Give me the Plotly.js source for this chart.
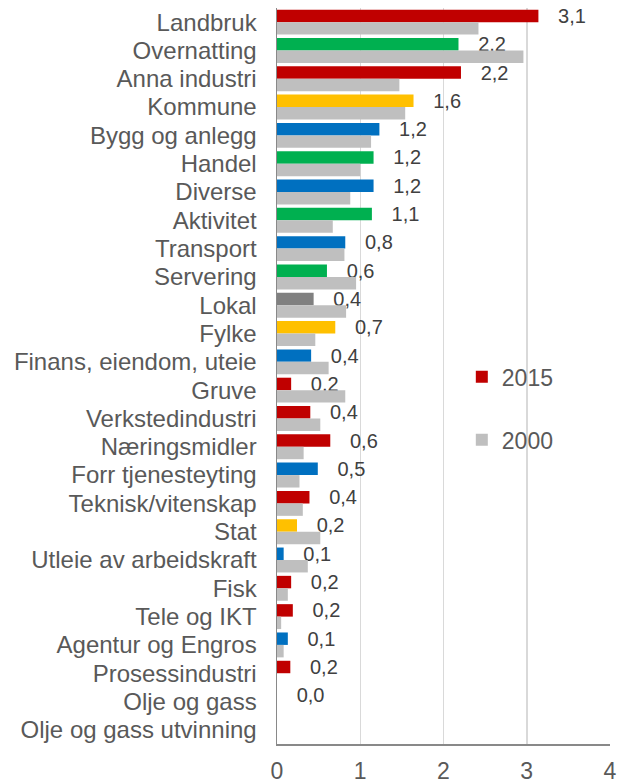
<!DOCTYPE html>
<html>
<head>
<meta charset="utf-8">
<script src="https://cdn.plot.ly/plotly-3.0.1.min.js"></script>
<style>html,body{margin:0;padding:0;background:#fff;}#chart{width:628px;height:783px;}</style>
</head>
<body>
<div id="chart"></div>
<script>
var categories = ["Landbruk","Overnatting","Anna industri","Kommune","Bygg og anlegg","Handel","Diverse","Aktivitet","Transport","Servering","Lokal","Fylke","Finans, eiendom, uteie","Gruve","Verkstedindustri","Næringsmidler","Forr tjenesteyting","Teknisk/vitenskap","Stat","Utleie av arbeidskraft","Fisk","Tele og IKT","Agentur og Engros","Prosessindustri","Olje og gass","Olje og gass utvinning"];
var values2015 = [3.14,2.18,2.21,1.64,1.23,1.16,1.16,1.14,0.82,0.60,0.44,0.70,0.41,0.17,0.40,0.64,0.49,0.39,0.24,0.08,0.17,0.19,0.13,0.16,0.0,null];
var values2000 = [2.42,2.96,1.47,1.54,1.13,1.00,0.88,0.67,0.81,0.95,0.83,0.46,0.62,0.82,0.52,0.32,0.27,0.31,0.52,0.37,0.13,0.05,0.08,0.0,0.0,null];
var groups2015 = ["red","green","red","yellow","blue","green","blue","green","blue","green","gray","yellow","blue","red","red","red","blue","red","yellow","blue","red","red","blue","red","red","red"];
var seriesNames = ["2015","2000"];

var palette = {red:"#C00000",green:"#00B050",yellow:"#FFC000",blue:"#0070C0",gray:"#808080"};
var colors2015 = groups2015.map(function(g){return palette[g];});
var labels2015 = values2015.map(function(v){
  return (v === null) ? "" : "\u00a0\u00a0\u00a0" + v.toFixed(1).replace(".", ",");
});
var font = "Arial, 'Liberation Sans', sans-serif";

var traces = [
  {type:"bar", orientation:"h", name:seriesNames[0], y:categories, x:values2015,
   marker:{color:colors2015}, text:labels2015, textposition:"outside",
   textfont:{family:font,size:20,color:"#404040"}, constraintext:"none", cliponaxis:false,
   legendgroup:"a", hoverinfo:"x+y"},
  {type:"bar", orientation:"h", name:seriesNames[1], y:categories, x:values2000,
   marker:{color:"#BFBFBF"}, legendgroup:"b", hoverinfo:"x+y"}
];

var layout = {
  width:628, height:783,
  margin:{l:277, r:18, t:8, b:39},
  paper_bgcolor:"#fff", plot_bgcolor:"#fff",
  barmode:"group", bargap:0.12, bargroupgap:0,
  font:{family:font, color:"#595959"},
  xaxis:{range:[0,4], dtick:1, tick0:0, showgrid:true, gridcolor:"#D9D9D9", gridwidth:1.5,
         zeroline:false, showline:true, linecolor:"#898989", linewidth:1.5,
         ticks:"", tickfont:{family:font,size:23,color:"#595959"}, ticklabelstandoff:6, fixedrange:true},
  yaxis:{autorange:"reversed", type:"category", tickmode:"linear", tick0:0, dtick:1,
         showline:true, linecolor:"#898989", linewidth:1.5,
         ticks:"", showgrid:false, tickfont:{family:font,size:24,color:"#595959"},
         ticklabelstandoff:14, fixedrange:true},
  showlegend:true,
  legend:{x:0.555, y:0.528, xanchor:"left", yanchor:"top", font:{family:font,size:23,color:"#595959"},
          tracegroupgap:30, bgcolor:"rgba(0,0,0,0)"}
};

Plotly.newPlot("chart", traces, layout, {displayModeBar:false, staticPlot:true});
</script>
</body>
</html>
